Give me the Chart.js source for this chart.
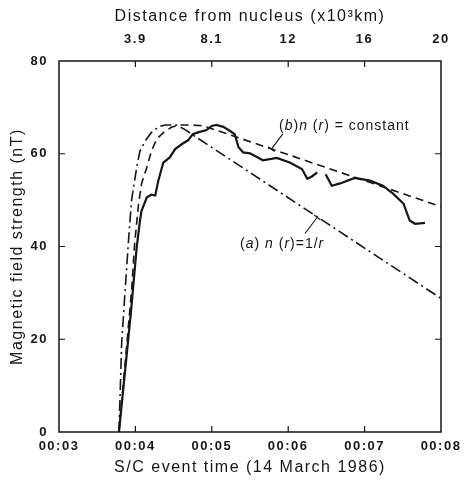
<!DOCTYPE html>
<html>
<head>
<meta charset="utf-8">
<script src="https://cdn.jsdelivr.net/npm/chart.js@4/dist/chart.umd.min.js"></script>
<style>
  html, body { margin: 0; padding: 0; background: #fff; }
  #grafico { display: block; }
</style>
</head>
<body>
<canvas id="grafico" width="466" height="483"></canvas>
<script>
// Ejes: minutos después de 00:00 (tiempo de la sonda) y distancias del eje superior
const minutos = [3, 4, 5, 6, 7, 8];
const etiquetasTiempo = ['00:03', '00:04', '00:05', '00:06', '00:07', '00:08'];
const etiquetasDistancia = ['', '3.9', '8.1', '12', '16', '20'];
const ticksCampo = [0, 20, 40, 60, 80];

// Campo observado (línea continua), null = hueco en el registro
const tiempoObs = [3.785, 3.94, 4.017, 4.06, 4.08, 4.15, 4.21, 4.26, 4.30, 4.365, 4.45, 4.52, 4.61, 4.69, 4.75,
  4.82, 4.93, 5.00, 5.06, 5.15, 5.24, 5.30, 5.35, 5.41, 5.50, 5.67, 5.85, 6.02, 6.18, 6.25, 6.31, 6.38, 6.43,
  6.49, 6.57, 6.68, 6.87, 7.07, 7.24, 7.38, 7.51, 7.55, 7.59, 7.66, 7.79];
const campoObs = [0, 25.6, 39.8, 45.6, 47.7, 50.6, 51.2, 51.0, 54.2, 58.1, 59.2, 61.0, 62.1, 62.9, 64.2,
  64.6, 65.1, 66.0, 66.2, 65.8, 64.9, 64.2, 61.4, 60.3, 60.1, 58.6, 59.1, 58.1, 56.7, 54.6, 55.1, 56.0, null,
  55.6, 53.1, 53.6, 54.8, 54.2, 53.1, 51.3, 49.2, 47.4, 45.6, 44.9, 45.1];

// Modelo (b) n(r) = constante (línea discontinua)
const tiempoConst = [3.785, 3.95, 3.99, 4.04, 4.08, 4.15, 4.21, 4.28, 4.37, 4.47, 4.58, 4.74, 4.89, 5.02, 8.0];
const campoConst = [0, 30.5, 40.6, 49.0, 53.5, 57.1, 60.6, 63.2, 64.6, 65.7, 66.2, 66.2, 66.0, 65.3, 48.6];

// Modelo (a) n(r) = 1/r (línea de trazo y punto)
const tiempoInv = [3.785, 3.82, 3.86, 3.91, 3.95, 4.02, 4.06, 4.13, 4.21, 4.30, 4.39, 4.54, 4.65, 4.74, 8.0];
const campoInv = [0, 19.1, 29.1, 41.3, 50.0, 57.4, 60.6, 62.8, 64.6, 65.8, 66.2, 66.2, 65.2, 64.2, 28.8];

const tinta = '#161616';
const fuente = "'Liberation Sans', Arial, Helvetica, sans-serif";

function puntos(xs, ys) {
  return xs.map((x, i) => ({ x: x, y: ys[i] }));
}

// Dibuja un texto por trozos, alternando cursiva y normal
function textoMixto(ctx, trozos, x, y) {
  trozos.forEach(([t, cursiva]) => {
    ctx.font = (cursiva ? 'italic ' : '') + '14px ' + fuente;
    ctx.fillText(t, x, y);
    x += ctx.measureText(t).width;
  });
}

// Marca de referencia: línea desde el texto hasta la curva con una barrita al final
function flecha(ctx, x1, y1, x2, y2) {
  ctx.beginPath();
  ctx.moveTo(x1, y1);
  ctx.lineTo(x2, y2);
  const ang = Math.atan2(y2 - y1, x2 - x1) + Math.PI / 2;
  ctx.moveTo(x2 - 4 * Math.cos(ang), y2 - 4 * Math.sin(ang));
  ctx.lineTo(x2 + 4 * Math.cos(ang), y2 + 4 * Math.sin(ang));
  ctx.stroke();
}

const marco = {
  id: 'marco',
  beforeDraw(chart) {
    chart.ctx.letterSpacing = '1.5px'; // el original tiene letras muy separadas
  },
  afterDatasetsDraw(chart) {
    const { ctx, chartArea: a, scales } = chart;
    ctx.save();
    ctx.strokeStyle = tinta;
    ctx.lineWidth = 1.5;
    ctx.strokeRect(a.left, a.top, a.right - a.left, a.bottom - a.top);

    // marcas hacia dentro
    ctx.lineWidth = 1.2;
    ctx.beginPath();
    minutos.slice(1, -1).forEach(m => {
      const x = scales.x.getPixelForValue(m);
      ctx.moveTo(x, a.bottom); ctx.lineTo(x, a.bottom - 6);
      ctx.moveTo(x, a.top); ctx.lineTo(x, a.top + 6);
    });
    ticksCampo.slice(1, -1).forEach(v => {
      const y = scales.y.getPixelForValue(v);
      ctx.moveTo(a.left, y); ctx.lineTo(a.left + 6, y);
      ctx.moveTo(a.right, y); ctx.lineTo(a.right - 6, y);
    });
    ctx.stroke();

    // anotaciones de los modelos
    const px = t => scales.x.getPixelForValue(t);
    const py = b => scales.y.getPixelForValue(b);
    ctx.fillStyle = tinta;
    ctx.letterSpacing = '1px';
    ctx.textBaseline = 'middle';
    ctx.textAlign = 'left';
    textoMixto(ctx, [['(', false], ['b', true], [')', false], ['n', true], [' (', false], ['r', true], [') = constant', false]], px(5.88), py(66));
    textoMixto(ctx, [['(', false], ['a', true], [') ', false], ['n', true], [' (', false], ['r', true], [')=1/', false], ['r', true]], px(5.37), py(40.6));
    ctx.lineWidth = 1.1;
    flecha(ctx, px(5.93), py(64.3), px(5.78), py(61.0));
    flecha(ctx, px(6.22), py(42.8), px(6.38), py(46.3));
    ctx.restore();
  }
};

const fuenteTicks = { family: fuente, size: 13, weight: 'bold' };
const fuenteTitulo = { family: fuente, size: 16 };

new Chart(document.getElementById('grafico'), {
  type: 'line',
  data: {
    datasets: [
      {
        label: 'observado',
        data: puntos(tiempoObs, campoObs),
        borderColor: tinta,
        borderWidth: 2.2,
        pointRadius: 0,
        spanGaps: false
      },
      {
        label: '(b) n(r) = constant',
        data: puntos(tiempoConst, campoConst),
        borderColor: tinta,
        borderWidth: 1.6,
        borderDash: [8, 5],
        pointRadius: 0
      },
      {
        label: '(a) n(r) = 1/r',
        data: puntos(tiempoInv, campoInv),
        borderColor: tinta,
        borderWidth: 1.6,
        borderDash: [11, 4, 2, 4],
        pointRadius: 0
      }
    ]
  },
  options: {
    responsive: false,
    animation: false,
    events: [],
    layout: { padding: { left: 0, right: 25, top: 0, bottom: 0 } },
    plugins: { legend: { display: false }, tooltip: { enabled: false } },
    scales: {
      x: {
        type: 'linear', position: 'bottom', min: 3, max: 8,
        afterBuildTicks: s => { s.ticks = minutos.map(v => ({ value: v })); },
        afterFit: s => { s.height = 51; },
        grid: { display: false, drawTicks: false },
        border: { display: false },
        ticks: {
          padding: 7, maxRotation: 0, autoSkip: false, color: tinta, font: fuenteTicks,
          callback: v => etiquetasTiempo[minutos.indexOf(v)]
        },
        title: { display: true, text: 'S/C event time (14 March 1986)', color: tinta, font: fuenteTitulo, padding: { top: 0, bottom: 6 } }
      },
      x2: {
        type: 'linear', position: 'top', min: 3, max: 8,
        afterBuildTicks: s => { s.ticks = minutos.map(v => ({ value: v })); },
        afterFit: s => { s.height = 61; },
        grid: { display: false, drawTicks: false },
        border: { display: false },
        ticks: {
          padding: 14, maxRotation: 0, autoSkip: false, color: tinta, font: fuenteTicks,
          callback: v => etiquetasDistancia[minutos.indexOf(v)]
        },
        title: { display: true, text: 'Distance from nucleus (x10³km)', color: tinta, font: fuenteTitulo, padding: { top: 7, bottom: 0 } }
      },
      y: {
        type: 'linear', position: 'left', min: 0, max: 80,
        afterBuildTicks: s => { s.ticks = ticksCampo.map(v => ({ value: v })); },
        afterFit: s => { s.width = 59; },
        grid: { display: false, drawTicks: false },
        border: { display: false },
        ticks: { padding: 11, color: tinta, font: fuenteTicks },
        title: { display: true, text: 'Magnetic field strength (nT)', color: tinta, font: fuenteTitulo, padding: { top: 8, bottom: 0 } }
      }
    }
  },
  plugins: [marco]
});
</script>
</body>
</html>
